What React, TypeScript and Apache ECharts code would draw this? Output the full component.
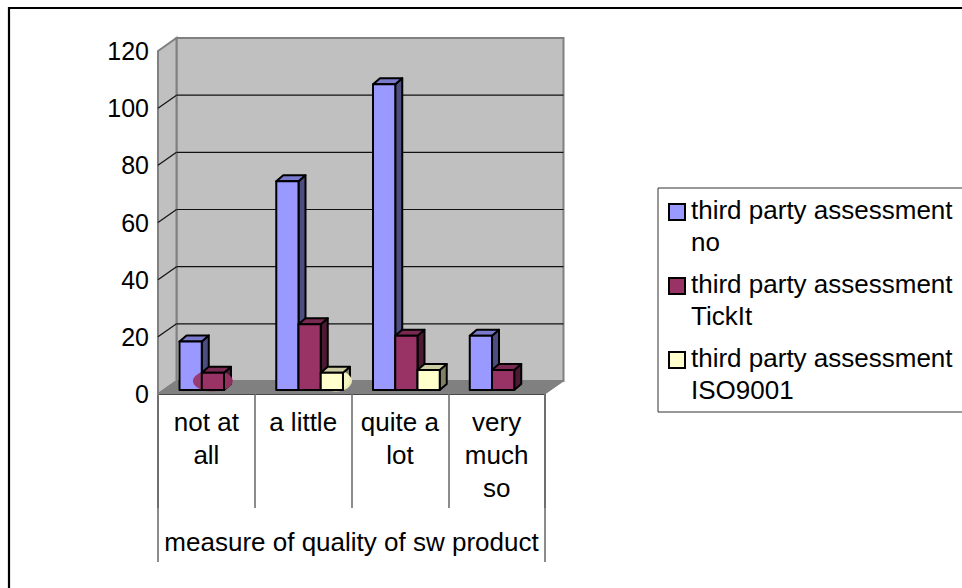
import React, { useEffect, useRef } from "react";
import * as echarts from "echarts";

const categories = ["not at\nall", "a little", "quite a\nlot", "very\nmuch\nso"];
const parentCategory = ["measure of quality of sw product"];
const noAssessment = [17, 73, 107, 19];
const tickIt = [6, 23, 19, 7];
const iso9001 = [null, 6, 7, null];
const yTicks = [0, 20, 40, 60, 80, 100, 120];
const legendNames = [
  "third party assessment\nno",
  "third party assessment\nTickIt",
  "third party assessment\nISO9001",
];

const FONT = "Liberation Sans";
const WALL_DX = 18.5;
const WALL_DY = -13;
const BAR_DX = 7;
const BAR_DY = -6;
const FLOOR_INSET_X = 6.5;
const FLOOR_INSET_Y = 4;

const barShades = [
  { front: "#9999FF", top: "#7A7ACC", side: "#4D4D80" },
  { front: "#993366", top: "#7A2952", side: "#4D1A33" },
  { front: "#FFFFCC", top: "#CCCCA3", side: "#808066" },
];

type Blob = { category: number; offset: number; rx: number };

function barSeries(name: string, values: (number | null)[], slot: number, blob?: Blob) {
  const c = barShades[slot];
  return {
    type: "custom",
    name,
    coordinateSystem: "cartesian2d",
    itemStyle: { color: c.front },
    z: 3 + slot,
    data: values.map((v, i) => [i, v]),
    encode: { x: 0, y: 1 },
    renderItem(_: any, api: any) {
      const v = api.value(1);
      if (v === null || v === undefined || Number.isNaN(v)) return null;
      const cat = api.value(0);
      const center = api.coord([cat, 0])[0];
      const width = api.size([1, 0])[0] / 4.35;
      const left = center + FLOOR_INSET_X + (slot - 1.5) * width;
      const base = api.coord([cat, 0])[1] - FLOOR_INSET_Y;
      const top = base - api.size([0, v])[1];
      const right = left + width;
      const line = { stroke: "#000", lineWidth: 2, lineJoin: "round" as const };
      const side = {
        type: "polygon",
        shape: {
          points: [
            [right, top],
            [right + BAR_DX, top + BAR_DY],
            [right + BAR_DX, base + BAR_DY],
            [right, base],
          ],
        },
        style: { fill: c.side, ...line },
      };
      const cap = {
        type: "polygon",
        shape: {
          points: [
            [left, top],
            [left + BAR_DX, top + BAR_DY],
            [right + BAR_DX, top + BAR_DY],
            [right, top],
          ],
        },
        style: { fill: c.top, ...line },
      };
      const front = {
        type: "rect",
        shape: { x: left, y: top, width, height: base - top },
        style: { fill: c.front, ...line },
      };
      const children: any[] = [side];
      // A rounded blob sits on the floor under this bar, over its side face
      if (blob && blob.category === cat) {
        children.push({
          type: "ellipse",
          shape: { cx: left + width / 2 + blob.offset, cy: base - 9, rx: blob.rx, ry: 10.5 },
          style: { fill: c.front, opacity: 0.92 },
        });
      }
      children.push(cap, front);
      return { type: "group", children };
    },
  };
}

export default function App() {
  const ref = useRef<HTMLDivElement>(null);

  useEffect(() => {
    const chart = echarts.init(ref.current!, undefined, { renderer: "svg" });
    chart.setOption({
      animation: false,
      backgroundColor: "#fff",
      textStyle: { fontFamily: FONT },
      grid: { left: 158, top: 51, width: 387, height: 343, containLabel: false },
      xAxis: [
        {
          type: "category",
          data: categories,
          axisLine: { show: true, lineStyle: { color: "#111", width: 2 } },
          axisTick: { show: true, length: 114, lineStyle: { color: "#666", width: 1.5 }, alignWithLabel: false },
          axisLabel: { color: "#000", fontSize: 26, lineHeight: 33, margin: 11, interval: 0, verticalAlign: "top", fontFamily: FONT },
        },
        {
          type: "category",
          position: "bottom",
          data: parentCategory,
          axisLine: { show: false },
          axisTick: { show: true, length: 168, lineStyle: { color: "#666", width: 1.5 } },
          axisLabel: { color: "#000", fontSize: 26, margin: 135, fontFamily: FONT, verticalAlign: "top" },
        },
      ],
      yAxis: {
        type: "value",
        min: 0,
        max: 120,
        interval: 20,
        axisLine: { show: false },
        axisTick: { show: false },
        axisLabel: { color: "#000", fontSize: 25, margin: 9, fontFamily: FONT },
        splitLine: { show: false },
      },
      legend: {
        left: 658,
        top: 188,
        orient: "vertical",
        icon: "path://M0 0H16V16H0Z M0 44H0Z",
        itemWidth: 16,
        itemHeight: 44,
        itemGap: 10,
        padding: [6, 40, 6, 10],
        borderColor: "#333",
        borderWidth: 1,
        backgroundColor: "#fff",
        align: "left",
        itemStyle: { borderColor: "#000", borderWidth: 2 },
        textStyle: { color: "#000", fontSize: 26, lineHeight: 32, fontFamily: FONT, padding: [0, 0, 0, 1] },
        data: legendNames,
      },
      graphic: [
        {
          type: "polyline",
          shape: { points: [[9, 588], [9, 8], [962, 8]] },
          style: { stroke: "#000", lineWidth: 2.2, fill: "none" },
          silent: true,
        },
      ],
      series: [
        {
          // Chart box: back wall, left wall, floor and the gridlines on both walls
          type: "custom",
          name: "walls",
          coordinateSystem: "cartesian2d",
          z: 1,
          silent: true,
          data: yTicks.map((v) => [0, v]),
          encode: { x: 0, y: 1 },
          renderItem(params: any, api: any) {
            const { x, width } = params.coordSys;
            const y = api.coord([0, api.value(1)])[1];
            const children: any[] = [];
            if (params.dataIndex === 0) {
              const yTop = api.coord([0, 120])[1];
              const wall = { fill: "#C0C0C0", stroke: "#808080", lineWidth: 2 };
              children.push(
                { type: "rect", shape: { x: x + WALL_DX, y: yTop + WALL_DY, width, height: y - yTop }, style: wall },
                {
                  type: "polygon",
                  shape: { points: [[x, yTop], [x + WALL_DX, yTop + WALL_DY], [x + WALL_DX, y + WALL_DY], [x, y]] },
                  style: wall,
                },
                {
                  type: "polygon",
                  shape: { points: [[x, y], [x + WALL_DX, y + WALL_DY], [x + width + WALL_DX, y + WALL_DY], [x + width, y]] },
                  style: { fill: "#808080", stroke: "#808080", lineWidth: 1 },
                },
              );
            } else if (api.value(1) < 120) {
              const line = { stroke: "#111", lineWidth: 1.2 };
              children.push(
                { type: "line", shape: { x1: x + WALL_DX, y1: y + WALL_DY, x2: x + width + WALL_DX, y2: y + WALL_DY }, style: line },
                { type: "line", shape: { x1: x, y1: y, x2: x + WALL_DX, y2: y + WALL_DY }, style: line },
              );
            }
            return { type: "group", children };
          },
        },
        barSeries(legendNames[0], noAssessment, 0),
        barSeries(legendNames[1], tickIt, 1, { category: 0, offset: 0, rx: 20 }),
        barSeries(legendNames[2], iso9001, 2, { category: 1, offset: 4, rx: 16 }),
      ],
    });
    return () => chart.dispose();
  }, []);

  return <div ref={ref} style={{ position: "fixed", left: 0, top: 0, width: 962, height: 588 }} />;
}
